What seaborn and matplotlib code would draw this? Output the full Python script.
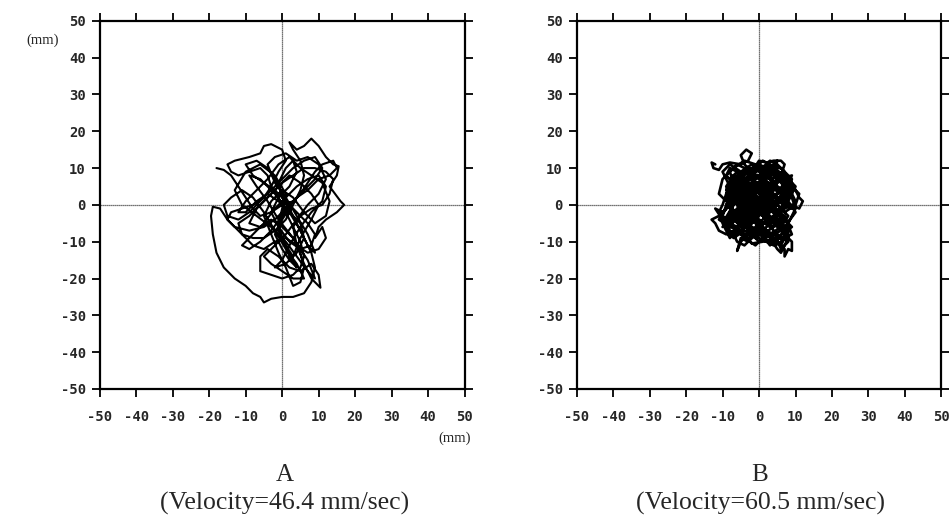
import numpy as np
import pandas as pd
import matplotlib
matplotlib.use('Agg')
import matplotlib.pyplot as plt
import seaborn as sns

sns.set_style('white')
plt.rcParams['axes.unicode_minus'] = False

# sway path of panel A, (x, y) in mm
path_a = [(-18, 10), (-16, 9.5), (-14, 8), (-12, 5), (-10, 2), (-8, -1), (-6, -3), (-3, -2), (0, 0), (3, 1),
          (5, 3), (7, 6), (9, 9), (11, 11), (14, 12), (15, 10), (13, 8), (10, 7), (7, 4), (4, 2),
          (1, -1), (-2, -4), (-5, -6), (-9, -7), (-13, -6), (-15, -4), (-14, -2), (-11, -1), (-8, 0), (-5, 2),
          (-3, 5), (-1, 9), (1, 12), (0, 15), (-3, 16.5), (-5, 16), (-6, 14), (-9, 13), (-13, 12), (-15, 11),
          (-14, 9), (-12, 8), (-9, 9), (-6, 10), (-4, 8), (-3, 5), (-1, 2), (1, -2), (3, -6), (5, -10),
          (6, -14), (5, -17), (3, -19), (0, -20), (-3, -19), (-6, -18), (-6, -14), (-4, -12), (-1, -14), (2, -17),
          (5, -18), (8, -16), (10, -19), (10.5, -22.5), (8, -20), (6, -16), (4, -11), (3, -6), (5, -3), (8, -1),
          (11, 0), (13, 3), (14, 7), (12, 9), (9, 10), (6, 10), (3, 8), (0, 6), (-3, 3), (-6, 0),
          (-9, -3), (-12, -5), (-11, -8), (-8, -9), (-5, -9), (-2, -7), (1, -4), (3, 0), (5, 4), (6, 8),
          (5, 12), (3, 15), (2, 17), (4, 15), (6, 16), (8, 18), (10, 16), (12, 13), (14, 11), (15.5, 10.5),
          (15, 8), (13, 5), (16, 1), (17, 0), (15, -2), (12, -4), (10, -6), (9, -9), (11, -6), (12, -9),
          (10, -12), (7, -13), (4, -11), (1, -9), (-2, -10), (-5, -12), (-8, -11), (-10, -9), (-12, -7), (-15, -4),
          (-17, -1), (-19, -0.5), (-19.5, -3), (-19, -8), (-18, -13), (-16, -17), (-13, -20), (-10, -22), (-8, -24), (-6, -25),
          (-5, -26.5), (-3, -25.5), (0, -25), (3, -25), (6, -24), (8, -21), (9, -17), (8, -13), (6, -9), (4, -5),
          (2, -1), (0, 3), (-2, 7), (-4, 10), (-7, 12), (-10, 11), (-8, 8), (-5, 6), (-2, 4), (1, 1),
          (4, -2), (7, -5), (9, -8), (8, -11), (5, -12), (2, -10), (-1, -6), (-3, -2), (-1, 2), (2, 5),
          (4, 9), (3, 12), (1, 10), (-1, 6), (0, 2), (2, -1), (0, -4), (-2, -8), (0, -12), (2, -15),
          (4, -17), (2, -14), (0, -9), (-1, -5), (0, -1),
          (1, 3), (-2, 8), (-6, 11), (-10, 9), (-13, 4), (-11, 0), (-7, -3), (-3, -6), (1, -10), (4, -14),
          (7, -18), (9, -20), (7, -15), (3, -9), (-1, -4), (-4, 1), (-7, 5), (-9, 8), (-6, 7), (-2, 3),
          (2, -2), (5, -7), (7, -11), (9, -13), (7, -8), (4, -3), (1, 2), (-2, 6), (-4, 11), (-2, 13),
          (1, 14), (4, 12), (7, 13), (10, 11), (12, 7), (10, 3), (7, 0), (4, -4), (1, -8), (-2, -11),
          (-5, -14), (-3, -16), (0, -18), (3, -20), (6, -20), (4, -16), (1, -12), (-2, -7), (-5, -2), (-8, 2),
          (-11, 4), (-14, 2), (-16, 0), (-15, -3), (-12, -4), (-9, -2), (-6, 1), (-3, 4), (0, 7), (3, 10),
          (6, 12), (9, 13), (11, 10), (9, 7), (6, 4), (3, 1), (0, -3), (-3, -7), (-6, -10), (-9, -12),
          (-11, -11), (-8, -8), (-5, -5), (-2, -1), (1, 2), (4, 5), (7, 7), (10, 8), (12, 5), (11, 1),
          (8, -2), (5, -6), (2, -11), (0, -15), (-2, -17), (1, -16), (4, -13), (6, -9), (5, -5), (2, -2),
          (-1, 1), (-4, 3), (-7, 1), (-10, -2), (-12, -2), (-10, 1), (-7, 4), (-4, 7), (-1, 11), (2, 13),
          (5, 10), (8, 8), (11, 6), (13, 1), (12, -3), (9, -5), (6, -2), (3, 2), (0, 4), (-3, 1),
          (-5, -3), (-3, -8), (-1, -13), (1, -17), (3, -22), (5, -21), (6, -17), (5, -13), (3, -9), (0, -6),
          (-3, -4), (-6, -6), (-9, -5), (-7, -1), (-4, 2), (-1, 5), (2, 8), (5, 6), (8, 3), (10, 0),
          (8, -4), (5, -9), (3, -14), (1, -11), (-1, -7), (0, -2)]

# sway path of panel B
path_b = [(-12, 11), (-13, 11.5), (-12.5, 10), (-11, 9.5), (-10, 11), (-8, 11.5), (-5, 11), (-3, 12), (-2, 14), (-3.5, 15),
          (-5, 13.5), (-4, 11), (-2, 9), (0, 12), (2, 11.5), (4, 12), (6, 12), (7, 11), (6, 8), (4, 6),
          (2, 8), (0, 6), (-3, 7), (-6, 8), (-8, 6), (-9, 3), (-10, 0), (-11, -2), (-9, -4), (-7, -2),
          (-5, 0), (-3, 3), (-1, 5), (1, 3), (3, 1), (5, 3), (7, 5), (9, 6), (10, 4), (11, 2),
          (12, 1), (11, -1), (9, 0), (7, -1), (5, -3), (3, -5), (1, -3), (-1, -1), (-3, -3), (-5, -5),
          (-7, -7), (-9, -8), (-11, -7), (-12, -5), (-13, -4), (-11, -3), (-9, -1), (-7, 1), (-5, 3), (-3, 5),
          (-1, 7), (1, 9), (3, 10), (5, 9), (7, 7), (8, 5), (7, 2), (5, 0), (3, -2), (1, -4),
          (-1, -6), (-3, -8), (-5, -10), (-6, -12.5), (-5, -9), (-3, -10), (-1, -8), (1, -6), (3, -8), (5, -10),
          (7, -12), (7, -14), (8, -12), (9, -12.5), (9, -10), (7, -8), (5, -6), (3, -4), (1, -2), (-1, 0),
          (-3, 2), (-5, 4), (-7, 6), (-9, 8), (-8, 10), (-6, 9), (-4, 7), (-2, 5), (0, 3), (2, 1),
          (4, -1), (6, -3), (8, -5), (9, -3), (10, -1), (9, 2), (8, 4), (6, 6), (4, 8), (2, 10),
          (0, 11), (-2, 10), (-4, 8), (-6, 6), (-8, 4), (-9, 2), (-8, -1), (-6, -3), (-4, -5), (-2, -7),
          (0, -9), (2, -10), (4, -11), (6, -10), (7, -8), (6, -6), (4, -4), (2, -2), (0, 0), (-2, 2),
          (-4, 4), (-6, 5), (-7, 3), (-6, 1), (-4, -1), (-2, -3), (0, -5), (2, -7), (4, -8), (6, -7),
          (8, -6), (8, -8), (6, -9), (4, -9.5), (1, -10), (-2, -10.5), (-4, -8), (-6, -6), (-8, -5), (-10, -3),
          (-9, 0), (-7, 2), (-5, 5), (-3, 8), (-1, 10), (1, 12), (3, 11), (5, 10), (6, 10), (8, 8),
          (9, 7), (8, 3), (6, 1), (4, 3), (2, 5), (0, 7), (-2, 8), (-4, 10), (-6, 11), (-8, 9),
          (-7, 6), (-5, 2), (-3, 0), (-1, -2), (1, -1), (3, 0), (5, 1), (7, 0), (9, -1), (10, 1),
          (9, 3), (7, 3), (5, 5), (3, 6), (1, 5), (-1, 3), (-3, 1), (-5, -1), (-7, -3), (-9, -5),
          (-8, -7), (-6, -8), (-4, -6), (-2, -4), (0, -2), (2, 0), (4, 2), (6, 4), (8, 6), (7, 9),
          (5, 11), (3, 12), (1, 8), (-1, 4), (-3, -1), (-5, -4), (-3, -6), (-1, -4), (1, -7), (3, -9),
          (5, -12), (6, -13), (7, -11), (8, -9), (6, -4), (4, 0), (2, 3), (0, 1), (-2, -1), (-4, 1),
          (-6, 3), (-8, 2), (-9, 5), (-7, 8), (-4, 6), (-1, 8), (2, 6), (4, 4), (3, 2), (1, 0),
          (-1, -3), (0, -6), (-2, -9), (-4, -11), (-6, -10), (-7, -8), (-5, -7), (-3, -5), (-1, -2), (1, 1),
          (3, 3), (5, 6), (4, 9), (2, 7), (0, 5), (-2, 3),
          (-1, 0), (2, 4), (-2, 6), (-6, 4), (-3, 1), (1, 5), (5, 2), (2, -2), (6, -1), (8, 2),
          (4, 5), (0, 8), (-4, 9), (-7, 7), (-9, 4), (-6, 2), (-8, -2), (-5, -6), (-2, -3), (-4, 0),
          (-7, -4), (-10, -6), (-8, -3), (-4, -2), (0, -4), (3, -6), (6, -5), (3, -1), (0, 2), (-3, 4),
          (-6, 7), (-3, 10), (0, 9), (3, 7), (6, 8), (8, 5), (5, 3), (1, 1), (-2, -2), (-5, -3),
          (-2, -6), (1, -8), (4, -6), (7, -4), (9, -6), (6, -8), (3, -11), (0, -7), (-3, -9), (-6, -7),
          (-8, -9), (-10, -5), (-7, 0), (-9, 2), (-6, 5), (-2, 7), (2, 9), (5, 12), (4, 8), (7, 6),
          (4, 2), (1, -2), (-2, 0), (-5, 1), (-8, 5), (-5, 8), (-2, 4), (1, 7), (4, 10), (7, 8),
          (10, 5), (8, 1), (10, -2), (7, -6), (4, -3), (1, -5), (-2, -8), (-5, -8), (-3, -4), (0, -1),
          (3, 2), (6, 2), (9, 4), (7, 7), (3, 9), (-1, 11), (-4, 12), (-7, 10), (-10, 7), (-11, 3),
          (-8, 0), (-10, -2), (-12, -1), (-10, -4), (-7, -6), (-4, -9), (-1, -11), (2, -8), (5, -8), (8, -10),
          (6, -12), (4, -7), (1, -3), (-2, 1), (-5, -2), (-7, 2), (-4, 5), (-1, 2), (2, -1), (5, -2),
          (8, 0), (6, 3), (3, 5), (0, 3), (-3, 6), (-6, 9), (-8, 7), (-5, 4), (-2, 2), (1, -1),
          (4, 1), (7, -2), (10, 0), (11, 3), (8, 6), (5, 8), (2, 11), (-1, 9), (-4, 7), (-7, 4),
          (-9, 0), (-6, -2), (-3, -5), (0, -8), (3, -10), (6, -11), (8, -7), (5, -4), (2, -6), (-1, -9),
          (-4, -7), (-7, -9), (-9, -6), (-6, -4), (-3, -1), (0, 1), (3, 4), (6, 7), (9, 8), (7, 4),
          (4, 0), (1, -2), (-2, -5), (-5, -7), (-8, -6), (-11, -4), (-9, -1), (-6, 3), (-3, 7), (0, 10),
          (3, 8), (5, 5), (8, 3), (6, -1), (3, -4), (0, -6), (-3, -3), (-6, 0), (-9, 3), (-7, 6),
          (-4, 3), (-1, 6), (2, 3), (5, 0), (8, -3), (6, -6), (3, -8), (0, -10), (-3, -7), (-5, -4),
          (-2, -1), (1, 2), (4, 6), (1, 9), (-2, 11), (-5, 9), (-8, 11), (-10, 9), (-8, 5), (-5, 1),
          (-2, -3), (1, -6), (4, -9), (7, -9), (9, -8), (7, -3), (4, -1), (1, 3), (-2, 5), (-5, 3),
          (-8, 1), (-6, -5), (-3, -2), (0, 0)]

ticks = list(range(-50, 51, 10))
panel_names = ['A', 'B']
velocities = [46.4, 60.5]

fig = plt.figure(figsize=(9.5, 5.2), dpi=100)
ax_a = fig.add_axes([0.105, 0.252, 0.384, 0.708])
ax_b = fig.add_axes([0.607, 0.252, 0.384, 0.708])

mono = {'family': 'DejaVu Sans Mono', 'weight': 'bold', 'size': 10}

for ax, path, lw in [(ax_a, path_a, 1.5), (ax_b, path_b, 1.9)]:
    df = pd.DataFrame(path, columns=['x', 'y'])
    df['step'] = np.arange(len(df))
    ax.axhline(0, color='#444444', lw=0.9, ls=(0, (1, 0.6)), zorder=1)
    ax.axvline(0, color='#444444', lw=0.9, ls=(0, (1, 0.6)), zorder=1)
    sns.lineplot(data=df, x='x', y='y', sort=False, estimator=None, color='black',
                 lw=lw, ax=ax, zorder=3)
    ax.set_xlim(-50, 50)
    ax.set_ylim(-50, 50)
    ax.set_xticks(ticks)
    ax.set_yticks(ticks)
    ax.set_xticklabels([str(t) for t in ticks], fontdict=mono)
    ax.set_yticklabels([str(t) for t in ticks], fontdict=mono)
    ax.set_xlabel('')
    ax.set_ylabel('')
    ax.tick_params(direction='out', length=6, width=1.3, color='black', pad=4,
                   top=True, right=True, bottom=True, left=True)
    ax.tick_params(axis='x', pad=9)
    for s in ax.spines.values():
        s.set_color('black')
        s.set_linewidth(1.6)

serif = 'Liberation Serif'
fig.text(0.028, 0.923, '(mm)', family=serif, fontsize=10.5, ha='left', va='center')
fig.text(0.479, 0.158, '(mm)', family=serif, fontsize=10.5, ha='center', va='center')

for cx, name, v in zip([0.300, 0.800], panel_names, velocities):
    fig.text(cx, 0.086, name, family=serif, fontsize=18, ha='center', va='center')
    fig.text(cx, 0.031, f'(Velocity={v} mm/sec)', family=serif, fontsize=18.5,
             ha='center', va='center')

fig.savefig('out.png', dpi=100)
